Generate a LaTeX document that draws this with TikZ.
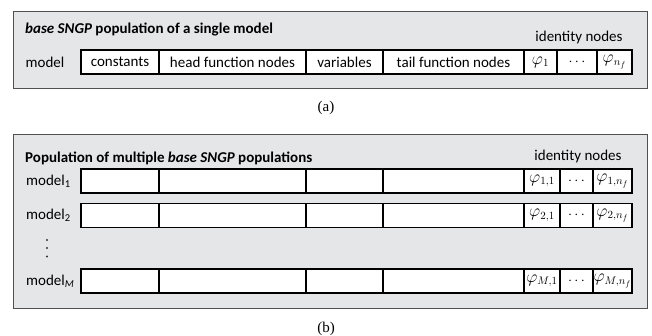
\documentclass[tikz,border=0pt]{standalone}
\usepackage{fontspec}
\setmainfont{Carlito}
\newfontfamily\timesf{Liberation Serif}
\definecolor{panelfill}{HTML}{E5E6E8}
\definecolor{panelline}{HTML}{505050}
\tikzset{
  panel/.style={draw=panelline, fill=panelfill, line width=1.3pt, inner sep=0pt, anchor=north west},
  cell/.style={draw=black, fill=white, line width=1.2pt, inner sep=0pt, minimum height=24pt, font=\fontsize{15}{17}\selectfont},
  lab/.style={inner sep=0pt, font=\fontsize{15}{17}\selectfont},
  ttl/.style={inner sep=0pt, anchor=west, font=\fontsize{15}{17}\selectfont\bfseries},
  captext/.style={inner sep=0pt, font=\fontsize{15}{17}\selectfont\timesf},
  dotm/.style={circle, fill=black!80, inner sep=0pt, minimum size=2.4pt}
}
\newcommand{\mphi}[1]{\fontsize{16}{17}\selectfont$\varphi_{#1}$}
\begin{document}
\begin{tikzpicture}[x=1pt,y=-1pt]
\useasboundingbox (0,0) rectangle (652,336);
% ---------- panel (a)
\node[panel, minimum width=634pt, minimum height=77pt] (pa) at (13,11) {};
\node[ttl] (ta) at (25,30) {\textit{base SNGP} population of a single model};
\node[lab] (ida) at (579,38) {identity nodes};
\node[lab] (ma) at (45,62) {model};
\node[cell, minimum width=78pt] (a1) at (120,62) {constants};
\node[cell, minimum width=147pt] (a2) at (232.5,62) {head function nodes};
\node[cell, minimum width=77pt] (a3) at (344.5,62) {variables};
\node[cell, minimum width=141pt] (a4) at (453.5,62) {tail function nodes};
\node[cell, minimum width=33pt] (a5) at (540.5,62) {\mphi{1}};
\node[cell, minimum width=40pt] (a6) at (577,62) {$\cdots$};
\node[cell, minimum width=35pt] (a7) at (614.5,62) {\mphi{n_f}};
\node[captext] (capa) at (326,108) {(a)};
% ---------- panel (b)
\node[panel, minimum width=634pt, minimum height=174pt] (pb) at (13,134) {};
\node[ttl] (tb) at (25,158) {Population of multiple \textit{base SNGP} populations};
\node[lab] (idb) at (578,157) {identity nodes};
\foreach \r/\y/\s/\ms in {1/181/1/1, 2/215.5/2/2, M/281/\textit{M}/M}{
  \node[lab, anchor=west] (m\r) at (26,\y) {model\textsubscript{\s}};
  \node[cell, minimum width=78pt] (b\r1) at (120,\y) {};
  \node[cell, minimum width=147pt] (b\r2) at (232.5,\y) {};
  \node[cell, minimum width=77pt] (b\r3) at (344.5,\y) {};
  \node[cell, minimum width=141pt] (b\r4) at (453.5,\y) {};
  \node[cell, minimum width=36pt] (b\r5) at (542,\y) {\mphi{\ms,1}};
  \node[cell, minimum width=33pt] (b\r6) at (576.5,\y) {$\cdots$};
  \node[cell, minimum width=39pt] (b\r7) at (612.5,\y) {\mphi{\ms,n_f}};
}
\node[dotm] (d1) at (47,240) {};
\node[dotm] (d2) at (47,248) {};
\node[dotm] (d3) at (47,256.5) {};
\node[captext] (capb) at (326,329) {(b)};
\end{tikzpicture}
\end{document}
